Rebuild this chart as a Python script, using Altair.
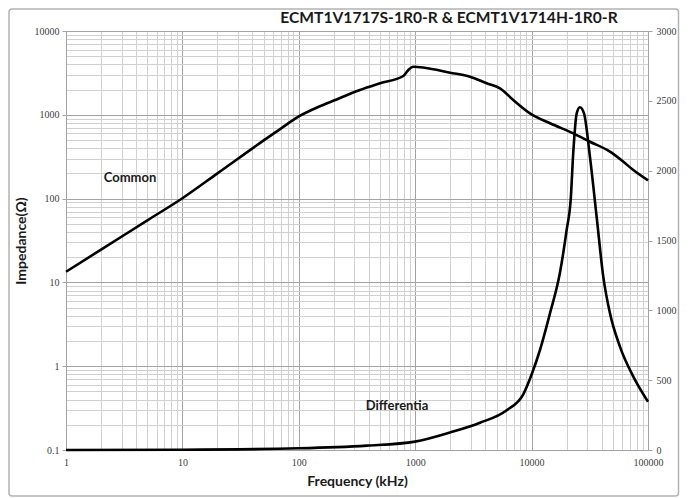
import altair as alt
import pandas as pd

# ---- data ----
common_freq = [1, 2, 5, 10, 20, 50, 70, 100, 150, 200, 336, 500, 790, 873, 964, 1200,
               1990, 2958, 4110, 5354, 6960, 9680, 14400, 22800, 31700, 47100,
               61400, 74800, 100000]
common_z = [13.4, 24.6, 55, 101, 200, 495, 685, 955, 1255, 1480, 1977, 2377, 2904, 3427,
            3750, 3650, 3184, 2851, 2380, 2070, 1501, 1042, 792, 601, 477, 363,
            275, 219, 165]

diff_freq = [1, 10, 100, 383, 996, 1990, 3600, 6110, 8500, 10000, 11800, 14400,
             17500, 20000, 21700, 22800, 24400, 26000, 28200, 31700, 36200, 41300,
             47100, 57400, 74800, 100000]
diff_z = [0, 2, 12, 31, 60, 125, 195, 285, 400, 540, 716, 980, 1267, 1575, 1800,
          2130, 2410, 2454, 2410, 2100, 1670, 1240, 980, 740, 525, 345]

label_text = ["Common", "Differentia"]
label_freq = [3.55, 698]
label_val = [176, 315]

x_decades = [1, 10, 100, 1000, 10000, 100000]
y_left_decades = [0.1, 1, 10, 100, 1000, 10000]
y_right_ticks = [0, 500, 1000, 1500, 2000, 2500, 3000]

title_text = "ECMT1V1717S-1R0-R & ECMT1V1714H-1R0-R"
x_title = "Frequency (kHz)"
y_title = "Impedance(Ω)"

# ---- build ----
W, H = 582, 419
PAD_L, PAD_T, PAD_R, PAD_B = 58, 23, 32, 48
TITLE_FONT = "Lato"
TICK_FONT = "Liberation Serif"

x_grid = [k * 10 ** e for e in range(0, 5) for k in range(1, 10)] + [x_decades[-1]]
y_grid = [round(k * 10.0 ** e, 6) for e in range(-1, 4) for k in range(1, 10)] + [y_left_decades[-1]]

decade = "abs(log(datum.value)/LN10 - round(log(datum.value)/LN10)) < 0.001"
grid_color = {"condition": {"test": decade, "value": "#a3a3a3"}, "value": "#d0d0d0"}
tick_color = {"condition": {"test": decade, "value": "#a3a3a3"}, "value": "transparent"}

x_scale = alt.Scale(type="log", domain=[x_decades[0], x_decades[-1]])
yl_scale = alt.Scale(type="log", domain=[y_left_decades[0], y_left_decades[-1]])
yr_scale = alt.Scale(type="linear", domain=[y_right_ticks[0], y_right_ticks[-1]])

x_axis = alt.Axis(values=x_grid, format="d", labelExpr=f"{decade} ? datum.label : ''",
                  labelOverlap=False, labelFlush=False, grid=True, gridColor=grid_color,
                  gridWidth=1, ticks=False, domainColor="#a3a3a3", labelFont=TICK_FONT,
                  labelFontSize=10, labelColor="#404040", labelPadding=7, title=x_title,
                  titleFont=TITLE_FONT, titleFontSize=14, titleFontWeight="bold",
                  titleColor="#1a1a1a", titlePadding=7)
yl_axis = alt.Axis(values=y_grid, format="~g", labelExpr=f"{decade} ? datum.label : ''",
                   labelOverlap=False, labelFlush=False, grid=True, gridColor=grid_color,
                   gridWidth=1, ticks=True, tickColor=tick_color, tickSize=4,
                   domainColor="#a3a3a3", labelFont=TICK_FONT, labelFontSize=10,
                   labelColor="#404040", labelPadding=3, title=y_title, titleFont=TITLE_FONT,
                   titleFontSize=14, titleFontWeight="bold", titleColor="#1a1a1a",
                   titlePadding=6)
yr_axis = alt.Axis(orient="right", values=y_right_ticks, format="d", grid=False,
                   labelFlush=False, ticks=True, tickColor="#a3a3a3", tickSize=4,
                   domainColor="#a3a3a3", labelFont=TICK_FONT, labelFontSize=10,
                   labelColor="#404040", labelPadding=4, title=None)

df_c = pd.DataFrame({"f": common_freq, "z": common_z})
df_d = pd.DataFrame({"f": diff_freq, "z": diff_z})
df_lc = pd.DataFrame({"f": [label_freq[0]], "z": [label_val[0]], "t": [label_text[0]]})
df_ld = pd.DataFrame({"f": [label_freq[1]], "z": [label_val[1]], "t": [label_text[1]]})

common = alt.Chart(df_c).mark_line(color="black", strokeWidth=2.6, interpolate="monotone").encode(
    x=alt.X("f:Q", scale=x_scale, axis=x_axis),
    y=alt.Y("z:Q", scale=yl_scale, axis=yl_axis),
)
common_lab = alt.Chart(df_lc).mark_text(font=TITLE_FONT, fontSize=13, fontWeight="bold",
                                        color="#1a1a1a").encode(
    x=alt.X("f:Q", scale=x_scale),
    y=alt.Y("z:Q", scale=yl_scale),
    text="t:N",
)
diff = alt.Chart(df_d).mark_line(color="black", strokeWidth=2.6, interpolate="monotone").encode(
    x=alt.X("f:Q", scale=x_scale),
    y=alt.Y("z:Q", scale=yr_scale, axis=yr_axis),
)
diff_lab = alt.Chart(df_ld).mark_text(font=TITLE_FONT, fontSize=13, fontWeight="bold",
                                      color="#1a1a1a").encode(
    x=alt.X("f:Q", scale=x_scale),
    y=alt.Y("z:Q", scale=yr_scale),
    text="t:N",
)

deco = pd.DataFrame({"t": [title_text]})
frame = alt.Chart(deco).mark_rect(fillOpacity=0, stroke="#b3b3b3", strokeWidth=1.5,
                                  cornerRadius=3).encode(
    x=alt.value(1 - PAD_L), x2=alt.value(W + PAD_R - 1.5),
    y=alt.value(1 - PAD_T), y2=alt.value(H + PAD_B - 2))
title = alt.Chart(deco).mark_text(font=TITLE_FONT, fontSize=15.6, fontWeight="bold",
                                  color="#1a1a1a", baseline="alphabetic").encode(
    x=alt.value(383), y=alt.value(-8), text="t:N")

left = alt.layer(common, common_lab)
right = alt.layer(diff, diff_lab)

chart = alt.layer(left, right, frame, title).resolve_scale(y="independent").properties(
    width=W, height=H,
    padding={"left": PAD_L, "top": PAD_T, "right": PAD_R, "bottom": PAD_B},
    autosize=alt.AutoSizeParams(type="none"),
    background="white",
).configure_view(stroke=None)

chart.save("out.html", embed_options={"renderer": "svg", "actions": False})
